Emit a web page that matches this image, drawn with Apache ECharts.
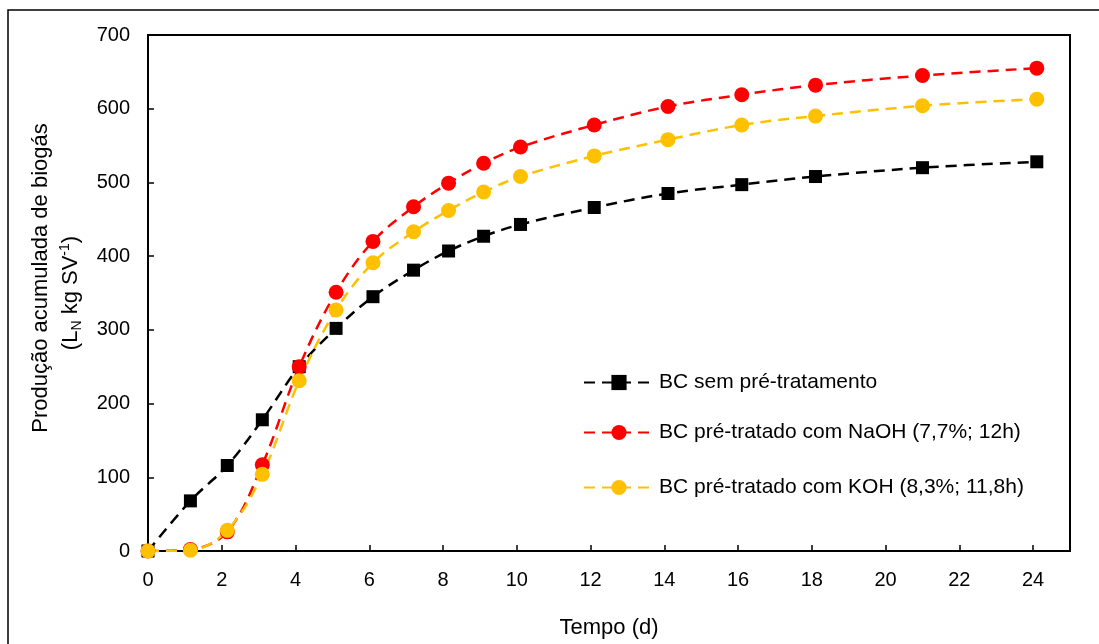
<!DOCTYPE html>
<html>
<head>
<meta charset="utf-8">
<title>Produção acumulada de biogás</title>
<script src="https://cdn.jsdelivr.net/npm/echarts@6/dist/echarts.min.js"></script>
<style>
  html, body { margin: 0; padding: 0; background: #fff; }
  #chart { width: 1099px; height: 644px; }
</style>
</head>
<body>
<div id="chart"></div>
<script>
// Tempo de digestão (d)
const dias = [0, 1.15, 2.15, 3.1, 4.1, 5.1, 6.1, 7.2, 8.15, 9.1, 10.1, 12.1, 14.1, 16.1, 18.1, 21, 24.1];
// Produção acumulada de biogás (L_N kg SV^-1)
const semPreTratamento = [0, 68, 116, 178, 250, 302, 345, 381, 407, 427, 443, 466, 485, 497, 508, 520, 528];
const preTratadoNaOH   = [0, 2, 26, 117, 250, 351, 420, 467, 499, 526, 548, 578, 603, 619, 632, 645, 655];
const preTratadoKOH    = [0, 1, 28, 104, 231, 327, 391, 433, 462, 487, 508, 536, 558, 578, 590, 604, 613];

const nomes = [
  'BC sem pré-tratamento',
  'BC pré-tratado com NaOH (7,7%; 12h)',
  'BC pré-tratado com KOH (8,3%; 11,8h)'
];

const FONT = '"Liberation Sans", Arial, sans-serif';

function pares(valores) {
  return dias.map((d, i) => [d, valores[i]]);
}

function serie(nome, valores, cor, simbolo, tamanho) {
  return {
    name: nome,
    type: 'line',
    data: pares(valores),
    smooth: 0.35,
    symbol: simbolo,
    symbolSize: tamanho,
    showAllSymbol: true,
    itemStyle: { color: cor, borderWidth: 0 },
    lineStyle: { color: cor, width: 2.5, type: [11, 7] },
    emphasis: { disabled: true },
    animation: false
  };
}

function legenda(nome, topo) {
  return {
    data: [nome],
    left: 583,
    top: topo,
    padding: 0,
    itemWidth: 70,
    itemHeight: 19,
    itemGap: 0,
    selectedMode: false,
    textStyle: { fontFamily: FONT, fontSize: 21, color: '#000' }
  };
}

const chart = echarts.init(document.getElementById('chart'), null, { renderer: 'canvas' });

chart.setOption({
  backgroundColor: '#fff',
  animation: false,
  grid: {
    left: 148, right: 29, top: 35, bottom: 93,
    show: true, borderColor: '#000', borderWidth: 2, backgroundColor: 'transparent'
  },
  legend: [
    legenda(nomes[0], 372),
    legenda(nomes[1], 422),
    legenda(nomes[2], 477)
  ],
  xAxis: {
    type: 'value',
    min: 0, max: 25, interval: 2,
    name: 'Tempo (d)',
    nameLocation: 'middle',
    nameGap: 66,
    nameTextStyle: { fontFamily: FONT, fontSize: 22, color: '#000' },
    axisLine: { show: true, onZero: false, lineStyle: { color: '#000', width: 2 } },
    axisTick: { show: true, inside: true, length: 6, lineStyle: { color: '#000', width: 1.5 } },
    axisLabel: {
      fontFamily: FONT, fontSize: 20, color: '#000', margin: 19,
      showMaxLabel: false,
      formatter: v => (v % 2 === 0 ? String(v) : '')
    },
    splitLine: { show: false }
  },
  yAxis: {
    type: 'value',
    min: 0, max: 700, interval: 100,
    axisLine: { show: true, lineStyle: { color: '#000', width: 2 } },
    axisTick: { show: true, inside: true, length: 6, lineStyle: { color: '#000', width: 1.5 } },
    axisLabel: { fontFamily: FONT, fontSize: 20, color: '#000', margin: 18 },
    splitLine: { show: false }
  },
  graphic: [
    {
      type: 'rect',
      silent: true,
      shape: { x: 8, y: 10, width: 1200, height: 700 },
      style: { fill: 'none', stroke: '#000', lineWidth: 1.5 }
    },
    {
      type: 'text',
      silent: true,
      x: 41, y: 278,
      rotation: Math.PI / 2,
      style: {
        text: 'Produção acumulada de biogás',
        fontFamily: FONT, fontSize: 22, fill: '#000',
        align: 'center', verticalAlign: 'middle'
      }
    },
    {
      type: 'text',
      silent: true,
      x: 71, y: 293,
      rotation: Math.PI / 2,
      style: {
        text: '(L{sub|N} kg SV{sup|-1})',
        fontFamily: FONT, fontSize: 22, fill: '#000',
        align: 'center', verticalAlign: 'middle',
        rich: {
          sub: { fontFamily: FONT, fontSize: 14, fill: '#000', verticalAlign: 'bottom', lineHeight: 26 },
          sup: { fontFamily: FONT, fontSize: 14, fill: '#000', verticalAlign: 'top', lineHeight: 26 }
        }
      }
    }
  ],
  series: [
    serie(nomes[0], semPreTratamento, '#000000', 'rect', 13),
    serie(nomes[1], preTratadoNaOH, '#FF0000', 'circle', 15),
    serie(nomes[2], preTratadoKOH, '#FFC000', 'circle', 15)
  ]
});
</script>
</body>
</html>
